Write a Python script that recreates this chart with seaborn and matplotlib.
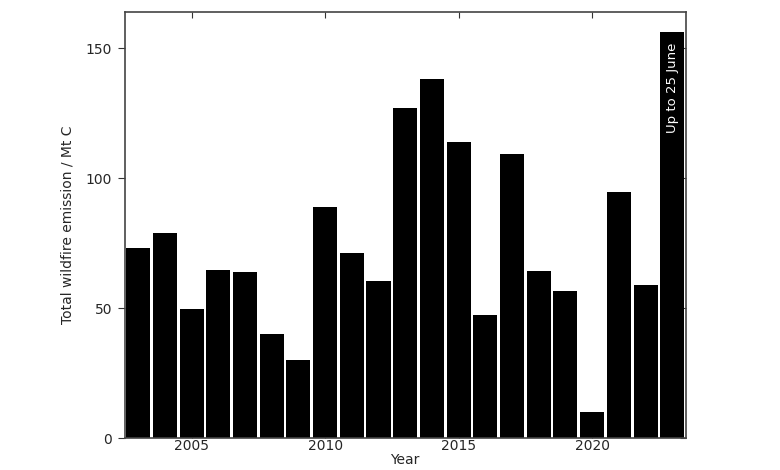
import numpy as np
import pandas as pd
import matplotlib
matplotlib.use('Agg')
import matplotlib.pyplot as plt
import seaborn as sns

# Annual wildfire carbon emissions
years = list(range(2003, 2024))
emissions = [73, 79, 49.6, 64.6, 63.8, 40, 30, 88.8, 71.3, 60.5, 126.9, 138.3,
             113.8, 47.3, 109.2, 64.2, 56.5, 10, 94.6, 58.8, 156]
note = 'Up to 25 June'

df = pd.DataFrame({'Year': years, 'Emission': emissions})

sns.set_style('ticks')
plt.rcParams['font.family'] = ['DejaVu Sans']

fig = plt.figure(figsize=(7.8, 4.7), dpi=100)
ax = fig.add_axes([0.160, 0.068, 0.719, 0.906])

sns.barplot(data=df, x='Year', y='Emission', native_scale=True, color='black',
            width=0.9, saturation=1, edgecolor='none', ax=ax)

ax.set_xlim(2002.5, 2023.5)
ax.set_ylim(0, 163.8)
ax.set_xticks([2005, 2010, 2015, 2020])
ax.set_yticks([0, 50, 100, 150])
ax.set_xlabel('Year', fontsize=10, labelpad=0)
ax.set_ylabel('Total wildfire emission / Mt C', fontsize=10, labelpad=8)
ax.set_axisbelow(True)  # inward ticks hide behind the bars

ax.tick_params(axis='x', direction='in', top=True, length=4, labelsize=10,
               color='#333333', pad=1)
ax.tick_params(axis='y', direction='out', length=5, labelsize=10,
               color='#333333', pad=4)
ax.tick_params(axis='y', which='both', right=True)
# right-hand ticks point inwards, like the top ones
for t in ax.yaxis.get_major_ticks():
    t.tick2line.set_marker(0)
    t.tick2line.set_markersize(4)
for sp in ax.spines.values():
    sp.set_visible(True)
    sp.set_color('#444444')
    sp.set_linewidth(1.2)

ax.text(years[-1], emissions[-1] - 4, note, rotation=90, color='white',
        ha='center', va='top', fontsize=9.5)

fig.savefig('out.png', dpi=100)
